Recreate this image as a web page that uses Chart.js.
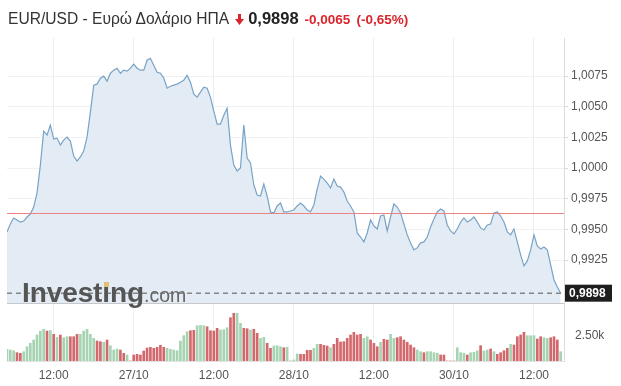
<!DOCTYPE html>
<html>
<head>
<meta charset="utf-8">
<script src="https://cdn.jsdelivr.net/npm/chart.js@4"></script>
<style>
  body { margin: 0; background: #fff; font-family: Arial, "Liberation Sans", sans-serif; }
  #wrap { position: relative; width: 621px; height: 386px; overflow: hidden; }
  #title { position: absolute; left: 8px; top: 8px; font-size: 15.6px; color: #333; white-space: nowrap; line-height: 20px; }
  #title .last { font-weight: bold; color: #222; margin-left: 4px; font-size: 16.5px; }
  #title .chg { font-weight: bold; color: #d9252b; font-size: 13.5px; margin-left: 6px; }
  #title svg { vertical-align: -1px; margin-left: 6px; }
  #logo { position: absolute; left: 22px; top: 277px; font-size: 28px; font-weight: bold; color: #555; letter-spacing: -0.1px; pointer-events: none; }
  #logo .com { font-weight: normal; font-size: 19.5px; color: #666; letter-spacing: 0; }
  #dot { position: absolute; left: 104px; top: 282px; width: 5px; height: 5px; background: #e3be78; }
</style>
</head>
<body>
<div id="wrap">
  <canvas id="chart" width="621" height="386"></canvas>
  <div id="title">EUR/USD - Ευρώ Δολάριο ΗΠΑ<svg width="9" height="11" viewBox="0 0 9 11"><path d="M3 0h3v5h3l-4.5 6L0 5h3z" fill="#d9252b"/></svg><span class="last">0,9898</span><span class="chg">-0,0065</span><span class="chg">(-0,65%)</span></div>
  <div id="logo">Investing<span class="com">.com</span></div>
  <div id="dot"></div>
</div>
<script>
// 30-minute closes
const prices = [
  0.99479, 0.99544, 0.99593, 0.99577, 0.9956, 0.99568, 0.99601, 0.99625, 0.99682, 0.99796,
  1.00024, 1.00301, 1.00269, 1.0035, 1.00236, 1.00244, 1.00187, 1.00228, 1.00252, 1.0022,
  1.00098, 1.00057, 1.0009, 1.00138, 1.00252, 1.00456, 1.00676, 1.00684, 1.00733, 1.00749,
  1.00708, 1.00773, 1.00798, 1.00814, 1.00773, 1.00798, 1.0079, 1.00814, 1.00847, 1.00814,
  1.00798, 1.00798, 1.00879, 1.00895, 1.00838, 1.00781, 1.00773, 1.00733, 1.00651, 1.00667,
  1.00676, 1.00684, 1.007, 1.00716, 1.00757, 1.007, 1.00602, 1.00578, 1.00619, 1.00659,
  1.00651, 1.00578, 1.00464, 1.00358, 1.00358, 1.00431, 1.00488, 1.00187, 1.00024, 0.99976,
  1.0, 1.0035, 1.00081, 1.00041, 0.99862, 0.9978, 0.99772, 0.9987, 0.99772, 0.99642,
  0.99634, 0.99691, 0.99715, 0.99642, 0.99642, 0.9965, 0.99658, 0.99691, 0.99715, 0.99691,
  0.99658, 0.99642, 0.99699, 0.99829, 0.99935, 0.9991, 0.99878, 0.99837, 0.9991, 0.99853,
  0.99845, 0.99805, 0.99731, 0.99691, 0.99642, 0.99471, 0.99438, 0.99398, 0.99471, 0.99577,
  0.99528, 0.99503, 0.99609, 0.99617, 0.99487, 0.99601, 0.99707, 0.99682, 0.99634, 0.99544,
  0.99455, 0.9939, 0.99333, 0.99349, 0.9939, 0.99398, 0.99438, 0.9952, 0.99585, 0.99642,
  0.99666, 0.9965, 0.99536, 0.99487, 0.99463, 0.99503, 0.9956, 0.99593, 0.9956, 0.99577,
  0.99601, 0.9956, 0.99512, 0.99495, 0.99536, 0.99544, 0.99634, 0.99642, 0.99609, 0.9956,
  0.99479, 0.99455, 0.99503, 0.99398, 0.99292, 0.99202, 0.99243, 0.99333, 0.99455, 0.99365,
  0.99341, 0.99357, 0.99333, 0.9921, 0.99088, 0.99031, 0.9898
];

const volumes = [
  1170, 1100, 1030, 830, 770, 930, 1430, 1770, 2100, 2600,
  3000, 3170, 3000, 3030, 2670, 2370, 2600, 2330, 2430, 2430,
  2430, 2670, 2670, 3000, 3170, 2670, 2270, 2000, 1930, 1870,
  2100, 1530, 1100, 1200, 1100, 770, 600, 0, 600, 670,
  600, 1000, 1300, 1370, 1270, 1370, 1570, 1370, 1270, 1170,
  1100, 1030, 2000, 2530, 2930, 3030, 3070, 3530, 3570, 3530,
  3430, 3030, 3000, 3270, 3100, 3130, 3330, 4330, 4770, 4770,
  3770, 3270, 3230, 3100, 3170, 2770, 2270, 2370, 1770, 1270,
  1500, 1530, 1430, 1330, 1370, 0, 100, 700, 670, 670,
  1070, 1070, 1270, 1670, 1670, 1570, 1500, 1330, 1670, 2270,
  1900, 1930, 2270, 2600, 2870, 2600, 2670, 2270, 2430, 2100,
  1770, 1430, 1870, 2170, 2100, 2670, 2270, 2330, 2430, 2100,
  1870, 1600, 1330, 1100, 930, 830, 930, 930, 830, 770,
  600, 600, 0, 0, 0, 1330, 830, 770, 600, 830,
  870, 1030, 1530, 1000, 1100, 1200, 930, 670, 830, 1030,
  1270, 1670, 1600, 2430, 2600, 2870, 2530, 2530, 2530, 2200,
  2430, 2330, 2270, 2330, 2430, 2100, 930
];

// 1 = up bar (green), 0 = down bar (red)
const volumeUp = [
  1, 1, 1, 0, 0, 1, 1, 1, 1, 1,
  1, 1, 0, 1, 0, 1, 0, 1, 1, 0,
  0, 0, 1, 1, 1, 1, 1, 0, 0, 1,
  0, 1, 1, 1, 0, 0, 1, 0, 0, 0,
  0, 0, 0, 0, 0, 0, 0, 0, 1, 1,
  1, 1, 1, 1, 1, 0, 0, 1, 1, 1,
  0, 0, 0, 0, 1, 1, 1, 0, 0, 1,
  1, 0, 0, 1, 0, 0, 1, 1, 0, 0,
  1, 1, 1, 0, 1, 0, 1, 1, 0, 0,
  0, 0, 1, 1, 0, 0, 0, 1, 0, 0,
  0, 0, 0, 0, 0, 0, 0, 1, 1, 0,
  0, 0, 1, 0, 0, 1, 1, 0, 0, 0,
  0, 0, 0, 1, 1, 0, 1, 1, 1, 1,
  0, 0, 0, 0, 0, 1, 1, 1, 0, 1,
  1, 1, 0, 1, 1, 0, 1, 0, 0, 0,
  0, 1, 0, 0, 0, 0, 1, 1, 1, 0,
  0, 1, 1, 0, 0, 0, 1
];

const timeLabels = ['12:00', '27/10', '12:00', '28/10', '12:00', '30/10', '12:00'];
const timeLabelIndex = [14, 38, 62, 86, 110, 134, 158];
const priceTicks = [0.9925, 0.9950, 0.9975, 1.0000, 1.0025, 1.0050, 1.0075];
const volumeTicks = [2500];
const prevClose = 0.9963;

Chart.defaults.font.family = 'Arial, "Liberation Sans", sans-serif';
Chart.defaults.font.size = 12;
Chart.defaults.color = '#555';

const fmt = v => v.toFixed(4).replace('.', ',');

const overlay = {
  id: 'overlay',
  afterDatasetsDraw(chart) {
    const { ctx, chartArea, scales } = chart;
    const y = scales.y;
    // bottom border of the price panel
    ctx.save();
    ctx.strokeStyle = '#c8c8c8';
    ctx.lineWidth = 1;
    ctx.beginPath();
    ctx.moveTo(chartArea.left, y.bottom + 0.5);
    ctx.lineTo(chartArea.right, y.bottom + 0.5);
    ctx.stroke();
    ctx.restore();
    // previous close
    ctx.save();
    const yp = Math.round(y.getPixelForValue(prevClose)) + 0.5;
    ctx.strokeStyle = 'rgb(236, 130, 130)';
    ctx.lineWidth = 1;
    ctx.beginPath();
    ctx.moveTo(chartArea.left, yp);
    ctx.lineTo(chartArea.right, yp);
    ctx.stroke();
    ctx.restore();
    // last price dashed line
    ctx.save();
    const last = prices[prices.length - 1];
    const yl = y.getPixelForValue(last);
    ctx.strokeStyle = '#858585';
    ctx.lineWidth = 1.6;
    ctx.setLineDash([5, 4]);
    ctx.beginPath();
    ctx.moveTo(chartArea.left, yl);
    ctx.lineTo(chartArea.right, yl);
    ctx.stroke();
    ctx.restore();
  },
  afterDraw(chart) {
    const { ctx, chartArea, scales } = chart;
    const last = prices[prices.length - 1];
    const yl = scales.y.getPixelForValue(last);
    ctx.save();
    ctx.fillStyle = '#1e1e1e';
    ctx.fillRect(chartArea.right + 1, yl - 8.5, 47, 17);
    ctx.fillStyle = '#fff';
    ctx.font = 'bold 12px Arial, "Liberation Sans", sans-serif';
    ctx.textBaseline = 'middle';
    ctx.fillText(fmt(last), chartArea.right + 5, yl + 0.5);
    ctx.restore();
  }
};

new Chart(document.getElementById('chart'), {
  type: 'line',
  data: {
    datasets: [
      {
        type: 'line',
        data: prices.map((v, i) => ({ x: i, y: v })),
        yAxisID: 'y',
        borderColor: '#79a3c6',
        borderWidth: 1.2,
        backgroundColor: '#e3ecf5',
        fill: 'start',
        pointRadius: 0,
        tension: 0
      },
      {
        type: 'bar',
        data: volumes.map((v, i) => ({ x: i, y: v })),
        yAxisID: 'y2',
        backgroundColor: volumeUp.map(u => u ? '#a6d4b3' : '#d2686c'),
        barThickness: 2,
        borderWidth: 0
      }
    ]
  },
  options: {
    responsive: false,
    animation: false,
    layout: { padding: { top: 38, left: 7, right: 0, bottom: 0 } },
    plugins: { legend: { display: false }, tooltip: { enabled: false } },
    scales: {
      x: {
        type: 'linear',
        offset: false,
        bounds: 'ticks',
        min: 0,
        max: 167,
        afterBuildTicks: s => { s.ticks = timeLabelIndex.map(v => ({ value: v })); },
        afterFit: s => { s.height = 25; },
        ticks: {
          autoSkip: false,
          maxRotation: 0,
          padding: 7,
          color: '#555',
          callback: (v, i) => timeLabels[i]
        },
        grid: { color: '#eceef1', drawTicks: false, offset: false },
        border: { color: '#e2e2e2' }
      },
      y: {
        position: 'right',
        stack: 'panels',
        stackWeight: 265,
        min: 0.9890,
        max: 1.0106,
        afterBuildTicks: s => { s.ticks = priceTicks.map(v => ({ value: v })); },
        afterFit: s => { s.width = 57; },
        ticks: { padding: 3, color: '#555', callback: v => fmt(v) },
        grid: { color: '#eff1f3', tickLength: 4, tickColor: '#d8d8d8' },
        border: { color: '#dcdcdc' }
      },
      y2: {
        position: 'right',
        stack: 'panels',
        stackWeight: 58,
        min: 0,
        max: 5800,
        afterBuildTicks: s => { s.ticks = volumeTicks.map(v => ({ value: v })); },
        afterFit: s => { s.width = 57; },
        ticks: { padding: 3, color: '#555', callback: v => (v / 1000).toFixed(2) + 'k' },
        grid: { display: false },
        border: { color: '#dcdcdc' }
      }
    }
  },
  plugins: [overlay]
});
</script>
</body>
</html>
